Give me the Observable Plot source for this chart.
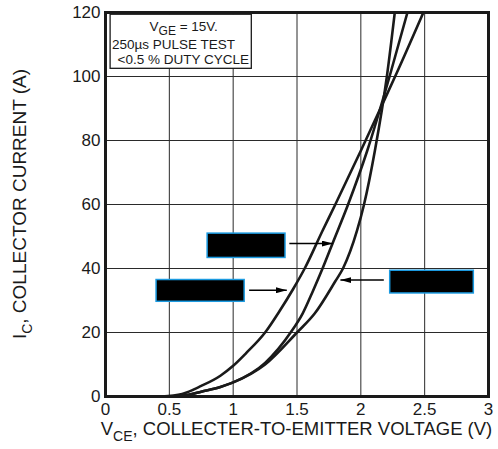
<!DOCTYPE html>
<html>
<head>
<meta charset="utf-8">
<script src="https://cdn.jsdelivr.net/npm/d3@7"></script>
<script src="https://cdn.jsdelivr.net/npm/@observablehq/plot@0.6"></script>
<style>
  html, body { margin: 0; padding: 0; background: #fff; }
  #chart { width: 498px; height: 449px; }
  svg text { font-family: "Liberation Sans", Arial, Helvetica, sans-serif; }
</style>
</head>
<body>
<div id="chart"></div>
<script>
// ---- Data ----
const xTicks = [0, 0.5, 1, 1.5, 2, 2.5, 3];
const yTicks = [0, 20, 40, 60, 80, 100, 120];

// Curve A (least steep at top, reaches 120 A at ~2.5 V)
const vceA = [0.44, 0.6, 0.75, 0.9, 1.0, 1.1, 1.25, 1.36, 1.47, 1.56, 1.70, 1.80, 2.0, 2.165, 2.28, 2.49];
const icA  = [0, 0.8, 3.3, 6.5, 9.6, 13.5, 20, 26.5, 33.6, 40, 51.8, 60, 76.8, 91, 101, 120];
// Curve B (middle)
const vceB = [0.5, 0.65, 0.75, 0.9, 1.0, 1.25, 1.45, 1.545, 1.625, 1.70, 1.78, 1.90, 2.05, 2.225, 2.365];
const icB  = [0, 0.5, 1.5, 3, 4.4, 10.5, 20, 26, 33, 40, 48, 60, 76.8, 100, 120];
// Curve C (steepest at top)
const vceC = [0.52, 0.65, 0.75, 0.9, 1.0, 1.25, 1.5, 1.64, 1.80, 1.86, 1.97, 2.025, 2.11, 2.204, 2.266];
const icC  = [0, 0.5, 1.5, 3, 4.4, 10, 20, 26, 36, 40, 51.8, 60, 76.8, 100, 120];

// Annotation boxes (data units) : x1, x2, y1, y2
const boxX1 = [0.80, 0.40, 2.23];
const boxX2 = [1.41, 1.09, 2.885];
const boxY1 = [43.3, 29.6, 32.2];
const boxY2 = [50.9, 36.4, 39.3];
// Arrows (data units)
const arrX1 = [1.44, 1.125, 2.18];
const arrX2 = [1.78, 1.42, 1.84];
const arrY  = [47.8, 33.2, 36.4];

// Conditions box
const condX = [0.04, 1.146];
const condY = [102.4, 119.3];
const condLines = ["250µs PULSE TEST", "<0.5 % DUTY CYCLE"];

// ---- Build tables ----
const curves = [
  ...vceA.map((v, i) => ({series: "A", v, ic: icA[i]})),
  ...vceB.map((v, i) => ({series: "B", v, ic: icB[i]})),
  ...vceC.map((v, i) => ({series: "C", v, ic: icC[i]}))
];
const boxes = boxX1.map((x1, i) => ({x1, x2: boxX2[i], y1: boxY1[i], y2: boxY2[i]}));
const arrows = arrX1.map((x1, i) => ({x1, x2: arrX2[i], y: arrY[i]}));

const ink = "#1a1a1a";

const plot = Plot.plot({
  width: 498,
  height: 449,
  marginLeft: 105,
  marginRight: 10,
  marginTop: 12,
  marginBottom: 53,
  style: {fontFamily: "Liberation Sans, Arial, sans-serif", background: "#fff", overflow: "visible"},
  x: {domain: [0, 3]},
  y: {domain: [0, 120]},
  marks: [
    Plot.gridX(xTicks, {stroke: "#2a2a2a", strokeOpacity: 1, strokeWidth: 1}),
    Plot.gridY(yTicks, {stroke: "#2a2a2a", strokeOpacity: 1, strokeWidth: 1}),
    Plot.axisX(xTicks, {tickSize: 0, tickPadding: 6, fontSize: 17, label: null, tickFormat: d => String(d), fill: ink}),
    Plot.axisY(yTicks, {tickSize: 0, tickPadding: 5, fontSize: 17, label: null, tickFormat: d => String(d), fill: ink}),
    Plot.line(curves, {x: "v", y: "ic", z: "series", curve: "monotone-x", stroke: ink, strokeWidth: 2.6, clip: true}),
    Plot.rect([{x1: condX[0], x2: condX[1], y1: condY[0], y2: condY[1]}],
      {x1: "x1", x2: "x2", y1: "y1", y2: "y2", fill: "#fff", stroke: ink, strokeWidth: 1.3}),
    Plot.rect(boxes, {x1: "x1", x2: "x2", y1: "y1", y2: "y2", fill: "#000", stroke: "#1b9ae0", strokeWidth: 1.5}),
    Plot.link(arrows, {x1: "x1", x2: "x2", y1: "y", y2: "y", stroke: "#000", strokeWidth: 1.4}),
    Plot.frame({stroke: ink, strokeWidth: 3})
  ]
});

document.getElementById("chart").appendChild(plot);

const svg = d3.select(plot);
const sx = plot.scale("x"), sy = plot.scale("y");

// Filled arrowheads for the links
const defs = svg.insert("defs", ":first-child");
defs.append("marker")
  .attr("id", "ahead")
  .attr("viewBox", "0 0 11 6")
  .attr("refX", 11).attr("refY", 3)
  .attr("markerWidth", 11).attr("markerHeight", 6)
  .attr("markerUnits", "userSpaceOnUse")
  .attr("orient", "auto")
  .append("path").attr("d", "M0,0L11,3L0,6Z").attr("fill", "#000");
svg.selectAll("g[aria-label=link] path").attr("marker-end", "url(#ahead)");

// X axis title
const xt = svg.append("text")
  .attr("x", (sx.apply(0) + sx.apply(3)) / 2)
  .attr("y", 435)
  .attr("text-anchor", "middle")
  .attr("font-size", 18.5)
  .attr("fill", ink);
xt.append("tspan").text("V");
xt.append("tspan").attr("dy", 6).attr("font-size", 14).text("CE");
xt.append("tspan").attr("dy", -6).text(", COLLECTER-TO-EMITTER VOLTAGE (V)");

// Y axis title
const yt = svg.append("text")
  .attr("transform", `translate(26,${(sy.apply(0) + sy.apply(120)) / 2}) rotate(-90)`)
  .attr("text-anchor", "middle")
  .attr("font-size", 19)
  .attr("fill", ink);
yt.append("tspan").text("I");
yt.append("tspan").attr("dy", 6).attr("font-size", 14).text("C");
yt.append("tspan").attr("dy", -6).text(", COLLECTOR CURRENT (A)");

// Conditions text
const cx = (sx.apply(condX[0]) + sx.apply(condX[1])) / 2 + 3;
const l1 = svg.append("text")
  .attr("x", cx).attr("y", 30.5)
  .attr("text-anchor", "middle").attr("font-size", 13.5).attr("fill", ink);
l1.append("tspan").text("V");
l1.append("tspan").attr("dy", 4).attr("font-size", 12).text("GE");
l1.append("tspan").attr("dy", -4).text(" = 15V.");
svg.append("text").attr("x", 112).attr("y", 48.5).attr("text-anchor", "start")
  .attr("font-size", 13.5).attr("fill", ink).text(condLines[0]);
svg.append("text").attr("x", 117.5).attr("y", 64).attr("text-anchor", "start")
  .attr("font-size", 13.5).attr("fill", ink).text(condLines[1]);
</script>
</body>
</html>
